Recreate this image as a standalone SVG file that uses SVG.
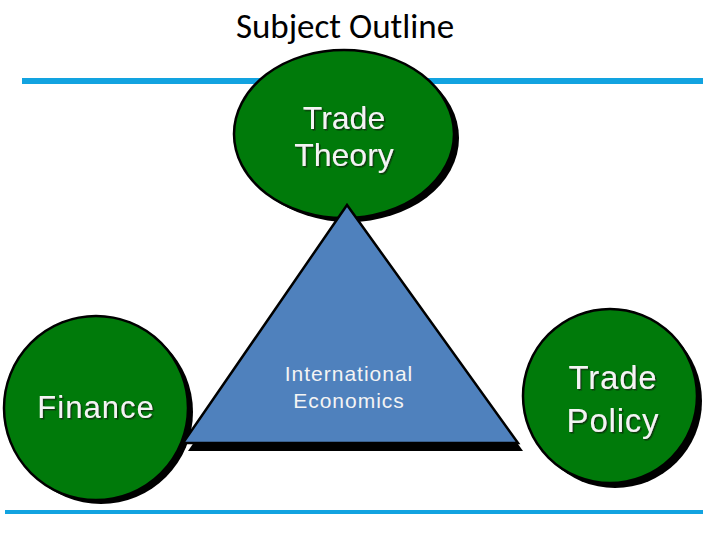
<svg xmlns="http://www.w3.org/2000/svg" width="720" height="540" viewBox="0 0 720 540">
<defs>
<filter id="ts" x="-10%" y="-10%" width="130%" height="140%">
<feDropShadow dx="1.5" dy="1.5" stdDeviation="0.4" flood-color="#0a3a0a" flood-opacity="1"/>
</filter>
</defs>
<style>
.sh{fill:#000}
.node{fill:#007a0a;stroke:#000;stroke-width:2.5}
.lbl{font-family:'Liberation Sans',Arial,sans-serif;fill:#f4f4f4;text-anchor:middle}
.rule{stroke:#12a3e0}
</style>
<rect width="720" height="540" fill="#fff"/>
<text x="345" y="38" font-family="Carlito, 'Open Sans', sans-serif" font-size="35" fill="#000" text-anchor="middle">Subject Outline</text>
<g id="rules">
<line class="rule" x1="22" y1="81" x2="703" y2="81" stroke-width="6"/>
<line class="rule" x1="5" y1="512" x2="703" y2="512" stroke-width="4"/>
</g>
<g id="trade-theory">
<ellipse class="sh" cx="349" cy="138" rx="110" ry="84"/>
<ellipse class="node" cx="344" cy="134" rx="110" ry="84"/>
<text class="lbl" font-size="32" filter="url(#ts)"><tspan x="344" y="129">Trade</tspan><tspan x="344" y="166">Theory</tspan></text>
</g>
<g id="finance">
<circle class="sh" cx="101" cy="412" r="92"/>
<circle class="node" cx="96" cy="408" r="92"/>
<text class="lbl" font-size="31" letter-spacing="1" x="96" y="418" filter="url(#ts)">Finance</text>
</g>
<g id="trade-policy">
<circle class="sh" cx="615" cy="401" r="87"/>
<circle class="node" cx="610" cy="396" r="87"/>
<text class="lbl" font-size="33" letter-spacing="0.8" filter="url(#ts)"><tspan x="613" y="389">Trade</tspan><tspan x="613" y="432">Policy</tspan></text>
</g>
<g id="international-economics">
<polygon points="352,211 188,451 523,451" fill="#000"/>
<polygon points="347,205 183,443 518,443" fill="#4f81bd" stroke="#000" stroke-width="2.5"/>
<text class="lbl" font-size="21" letter-spacing="1" fill="#fff"><tspan x="349" y="381">International</tspan><tspan x="349" y="408">Economics</tspan></text>
</g>
<g id="connectors"></g>
</svg>
